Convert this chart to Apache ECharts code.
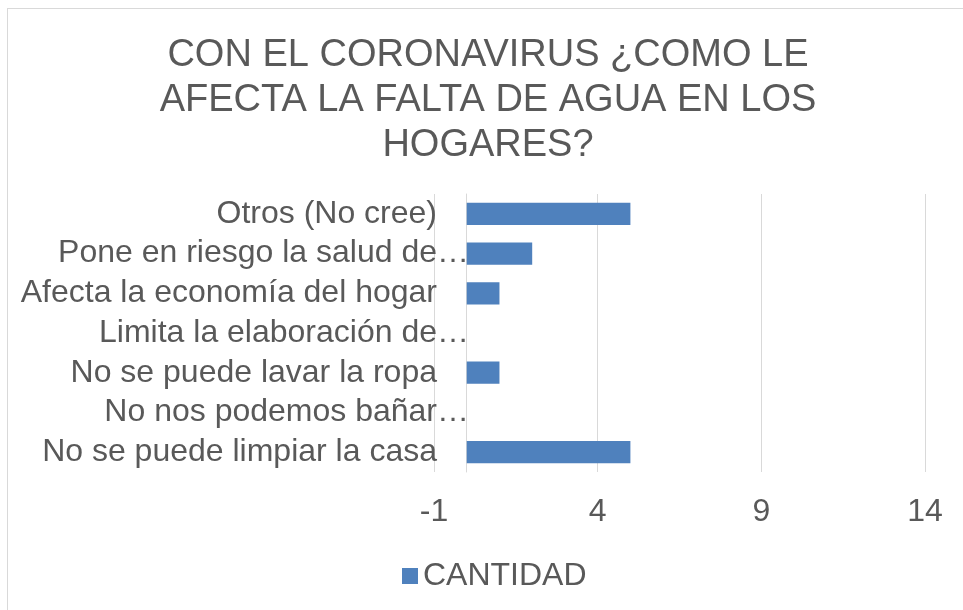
<!DOCTYPE html>
<html>
<head>
<meta charset="utf-8">
<script src="https://cdn.jsdelivr.net/npm/echarts@6/dist/echarts.min.js"></script>
<style>
  html, body { margin: 0; padding: 0; background: #fff; }
  #frame { position: absolute; left: 7px; top: 8px; width: 1000px; height: 700px; border: 1px solid #d9d9d9; }
  #main { position: absolute; left: 0; top: 0; width: 963px; height: 610px; }
</style>
</head>
<body>
<div id="frame"></div>
<div id="main"></div>
<script>
// categorias (de abajo hacia arriba, como las dibuja echarts)
var categories = [
    'No se puede limpiar la casa',
    'No nos podemos bañar…',
    'No se puede lavar la ropa',
    'Limita la elaboración de…',
    'Afecta la economía del hogar',
    'Pone en riesgo la salud de…',
    'Otros (No cree)'
];
var cantidad = [5, 0, 1, 0, 1, 2, 5];
var xTicks = [-1, 4, 9, 14];

var gris = '#595959';
var fuente = '"Liberation Sans", Arial, sans-serif';
var paso = xTicks[1] - xTicks[0];

var myChart = echarts.init(document.querySelector('#main'));
var option = {
    animation: false,
    title: {
        text: 'CON EL CORONAVIRUS ¿COMO LE\nAFECTA LA FALTA DE AGUA EN LOS\nHOGARES?',
        left: 483,
        top: 28,
        textAlign: 'center',
        textStyle: {
            color: gris,
            fontFamily: fuente,
            fontSize: 38,
            fontWeight: 'normal',
            lineHeight: 45
        }
    },
    legend: {
        data: ['CANTIDAD'],
        left: 397,
        top: 555,
        itemWidth: 16,
        itemHeight: 16,
        itemGap: 7,
        icon: 'rect',
        textStyle: { color: gris, fontFamily: fuente, fontSize: 32 }
    },
    grid: {
        left: 434,
        right: 38,
        top: 194,
        bottom: 138,
        containLabel: false,
        outerBoundsMode: 'none'
    },
    xAxis: [{
        // eje real de los datos
        type: 'value',
        min: xTicks[0],
        max: xTicks[xTicks.length - 1],
        show: false
    }, {
        // eje solo para las etiquetas -1, 4, 9, 14
        type: 'value',
        position: 'bottom',
        min: 0,
        max: xTicks[xTicks.length - 1] - xTicks[0],
        interval: paso,
        axisLine: { show: false },
        axisTick: { show: false },
        axisLabel: {
            margin: 24,
            color: gris,
            fontFamily: fuente,
            fontSize: 32,
            formatter: function (v) { return v + xTicks[0]; }
        },
        splitLine: { lineStyle: { color: '#d9d9d9', width: 1 } }
    }],
    yAxis: {
        type: 'category',
        data: categories,
        axisLine: { show: true, onZero: true, onZeroAxisIndex: 0, lineStyle: { color: '#d9d9d9' } },
        axisTick: { show: false },
        axisLabel: {
            interval: 0,
            hideOverlap: false,
            margin: -3,
            color: gris,
            fontFamily: fuente,
            fontSize: 32,
            // los puntos suspensivos sobresalen a la derecha, como en Excel
            formatter: function (v) {
                if (v.slice(-1) === '…') {
                    return '{t|' + v.slice(0, -1) + '}{e|…}';
                }
                return '{t|' + v + '}';
            },
            rich: {
                t: { color: gris, fontFamily: fuente, fontSize: 32, align: 'left' },
                e: { color: gris, fontFamily: fuente, fontSize: 32, width: 0, align: 'left' }
            }
        }
    },
    series: [{
        name: 'CANTIDAD',
        type: 'bar',
        xAxisIndex: 0,
        data: cantidad,
        barCategoryGap: '44%',
        itemStyle: { color: '#4f81bd' }
    }]
};

myChart.setOption(option);
</script>
</body>
</html>
